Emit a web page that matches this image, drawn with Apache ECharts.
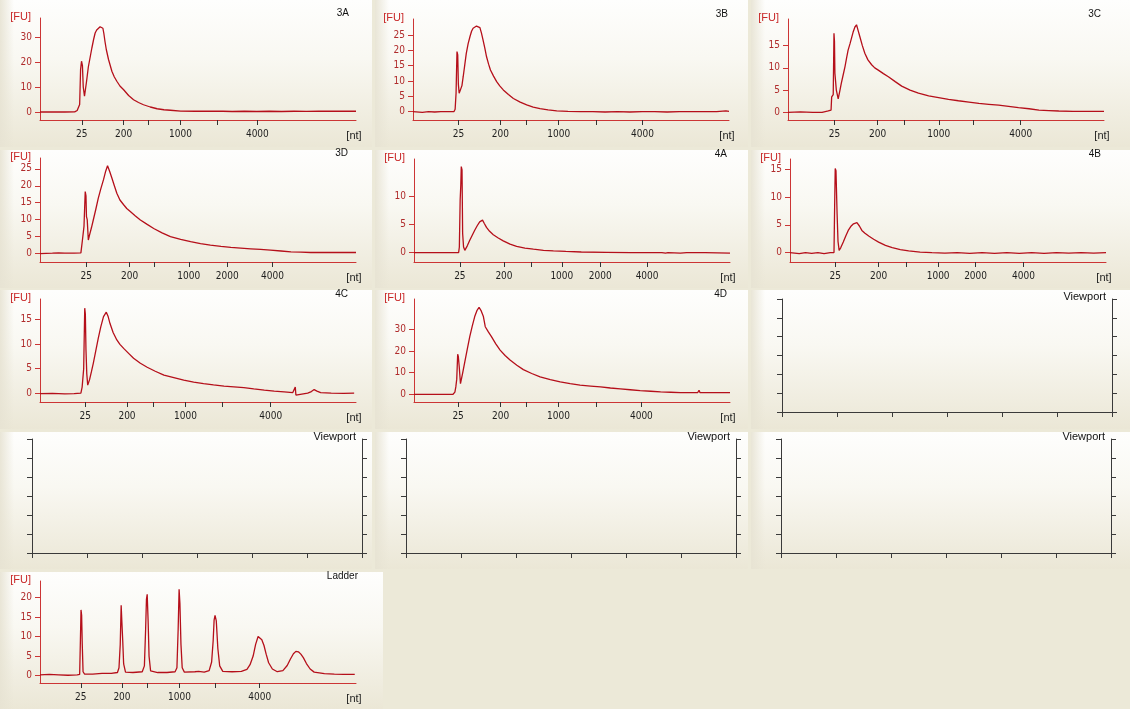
<!DOCTYPE html>
<html>
<head>
<meta charset="utf-8">
<script src="https://cdn.jsdelivr.net/npm/echarts@6/dist/echarts.min.js"></script>
<style>
  html, body { margin: 0; padding: 0; background: #ece9d8; }
  #chart { width: 1130px; height: 709px; }
</style>
</head>
<body>
<div id="chart"></div>
<script>
// ---------------------------------------------------------------------------
// Electropherogram traces: [migration time (s), fluorescence (FU)]
// ---------------------------------------------------------------------------
const trace3A = [
  [19.0,0.0],[21.0,0.05],[23.0,0.0],[24.6,0.05],[25.0,0.6],[25.4,3],[25.55,17],[25.7,20.3],[25.85,18.5],
  [25.98,10],[26.18,6.3],[26.5,12],[26.8,18],[27.1,22],[27.37,25.6],[27.65,29],[27.9,31.6],[28.15,32.8],
  [28.4,33.6],[28.7,34.1],[29.0,34.4],[29.15,33.5],[29.3,31.5],[29.5,28],[29.7,25],[30.06,21],[30.6,16.3],
  [31.0,14],[31.4,12.3],[31.9,10.4],[32.5,8.9],[33.3,6.6],[34.1,4.9],[34.9,3.8],[35.7,2.9],[36.8,2.0],
  [37.9,1.3],[39.0,0.9],[40.05,0.7],[41.7,0.35],[44.0,0.3],[46.5,0.3],[46.6,-0.3],[46.75,0.3],[48.5,0.3],
  [50.0,0.2],[52.0,0.3],[54.0,0.2],[56.0,0.3],[58.0,0.2],[60.0,0.3],[62.0,0.25],[64.0,0.3],[66.0,0.3],
  [68.0,0.3],[70.0,0.3]
];
const trace3B = [
  [19.0,0.0],[20.5,-0.2],[21.5,0.0],[22.5,-0.1],[23.5,0.0],[25.6,0.0],[25.8,0.8],[25.95,6],[26.1,19.6],
  [26.22,18.5],[26.32,9],[26.45,6],[26.66,5.4],[26.9,8.5],[27.1,11.4],[27.35,15.2],[27.6,19],[27.9,22.2],
  [28.2,24.5],[28.45,26.2],[28.7,27.2],[29.0,27.8],[29.25,27.9],[29.5,27.8],[29.8,27.4],[30.05,25.6],
  [30.3,23.4],[30.6,20.6],[30.87,17.9],[31.2,15.5],[31.5,13.6],[32.0,11.6],[32.5,9.8],[33.0,8.4],
  [33.57,7.1],[34.4,5.6],[35.2,4.3],[36.3,3.1],[37.35,2.2],[38.4,1.5],[39.5,1.0],[40.8,0.6],[42.2,0.3],
  [44.0,0.1],[46.0,0.0],[48.0,0.0],[50.0,-0.1],[52.0,0.0],[54.0,-0.1],[56.0,0.0],[58.0,0.0],[60.0,-0.1],
  [62.0,0.0],[64.0,0.0],[66.0,0.0],[68.0,0.0],[69.5,0.3],[70.0,0.1]
];
const trace3C = [
  [19.0,0.0],[21.0,0.1],[23.0,0.0],[24.5,0.0],[25.5,0.3],[25.95,0.5],[26.05,3.5],[26.3,4],[26.42,17.8],
  [26.5,16],[26.57,8.8],[26.65,8.5],[26.8,5],[27.1,3.0],[27.35,4.7],[27.6,6.5],[27.9,8.4],[28.2,10.3],
  [28.45,12.2],[28.7,14.0],[29.0,15.4],[29.25,16.7],[29.5,18],[29.8,19.2],[30.06,19.7],[30.3,18.5],
  [30.6,17.0],[31.0,15.0],[31.4,13.3],[31.9,11.8],[32.5,10.7],[33.0,10.0],[33.57,9.5],[34.4,8.7],
  [35.2,8.0],[36.3,6.9],[37.35,5.9],[38.7,5.0],[40.05,4.3],[41.7,3.7],[43.3,3.3],[44.9,2.9],[46.5,2.6],
  [48.2,2.3],[49.8,2.0],[51.4,1.8],[53.0,1.6],[54.6,1.35],[56.2,1.05],[57.9,0.8],[59.5,0.5],[61.1,0.4],
  [62.7,0.3],[65.0,0.2],[67.5,0.2],[70.0,0.2]
];
const trace3D = [
  [19.0,0.0],[21.0,0.1],[22.0,0.2],[23.0,0.1],[24.5,0.1],[25.6,0.2],[25.85,4],[26.1,8],[26.3,18.3],
  [26.42,17],[26.5,10.9],[26.62,10],[26.8,4.0],[27.0,5.5],[27.3,7.6],[27.6,9.9],[28.0,13],[28.4,16.3],
  [28.8,19],[29.25,21.8],[29.6,24.3],[29.9,25.9],[30.25,24.2],[30.6,22.3],[31.0,20],[31.4,17.8],
  [31.9,15.8],[32.5,14.4],[33.0,13.3],[33.57,12.4],[34.4,11.1],[35.2,9.9],[36.3,8.6],[37.35,7.4],
  [38.7,6.1],[40.05,5.0],[41.7,4.2],[43.3,3.5],[44.9,2.9],[46.5,2.5],[48.2,2.1],[49.8,1.8],[51.4,1.6],
  [53.0,1.4],[54.6,1.2],[56.2,1.0],[57.9,0.75],[59.5,0.5],[61.1,0.4],[62.7,0.3],[66.0,0.3],[70.0,0.3]
];
const trace4A = [
  [19.0,0.0],[22.0,0.0],[24.0,0.0],[26.2,0.0],[26.32,1],[26.45,9.4],[26.55,12],[26.63,15.4],[26.75,14.8],
  [26.85,3.4],[27.0,1.0],[27.2,0.4],[27.6,1.2],[28.0,2.2],[28.4,3.1],[28.8,4.0],[29.2,4.8],[29.6,5.5],
  [29.9,5.75],[30.06,5.8],[30.35,5.2],[30.7,4.5],[31.2,3.8],[31.8,3.2],[32.6,2.6],[33.4,2.1],[34.5,1.5],
  [35.56,1.1],[36.9,0.8],[38.27,0.6],[39.9,0.4],[41.5,0.3],[43.5,0.2],[46.0,0.1],[50.0,0.05],[54.0,0.0],
  [56.3,0.0],[56.5,-0.2],[56.7,0.0],[59.0,0.0],[59.3,-0.2],[59.6,-0.1],[60.0,0.0],[62.0,-0.1],[63.0,0.0],
  [66.0,0.0],[70.0,-0.1]
];
const trace4B = [
  [19.0,0.0],[20.5,-0.2],[21.5,0.0],[22.5,-0.15],[23.5,0.0],[24.5,-0.2],[25.5,0.0],[26.1,0.0],[26.2,8],
  [26.3,15.2],[26.42,14.8],[26.5,14.6],[26.6,7.0],[26.75,2],[26.93,0.4],[27.2,0.9],[27.6,1.9],[28.0,3.0],
  [28.4,4.0],[28.8,4.7],[29.25,5.2],[29.8,5.4],[30.2,4.8],[30.6,4.0],[31.1,3.5],[31.7,3.0],[32.5,2.4],
  [33.3,1.9],[34.4,1.3],[35.5,0.9],[36.8,0.55],[38.15,0.3],[40.0,0.1],[41.9,0.0],[44.0,-0.1],[46.0,0.0],
  [48.0,-0.15],[50.0,0.0],[52.0,-0.15],[54.0,0.0],[56.0,-0.15],[58.0,0.0],[60.0,-0.15],[62.0,0.0],
  [64.0,-0.1],[66.0,0.0],[68.0,-0.1],[70.0,0.0]
];
const trace4C = [
  [19.0,0.0],[21.0,0.05],[23.0,-0.05],[24.5,0.0],[25.6,0.1],[25.8,1.3],[26.05,5],[26.22,17.2],[26.32,16],
  [26.42,8.8],[26.55,4],[26.7,1.7],[27.0,2.8],[27.3,4.4],[27.6,6.1],[28.0,8.6],[28.4,11.1],[28.8,13.4],
  [29.25,15.5],[29.7,16.4],[30.0,15.5],[30.3,14.1],[30.8,12.3],[31.4,10.8],[31.9,9.9],[32.5,9.1],
  [33.3,8.1],[34.1,7.1],[35.2,6.1],[36.3,5.3],[37.6,4.5],[39.0,3.7],[40.6,3.2],[42.2,2.7],[43.8,2.3],
  [45.4,2.0],[47.0,1.75],[48.7,1.5],[50.3,1.35],[51.9,1.2],[53.5,0.95],[55.2,0.7],[56.8,0.5],[58.4,0.35],
  [59.8,0.2],[60.2,1.3],[60.3,-0.3],[60.5,0.1],[62.2,0.1],[62.8,0.4],[63.25,0.8],[63.7,0.5],[64.3,0.2],
  [66.0,0.1],[68.0,0.05],[69.7,0.1]
];
const trace4D = [
  [19.0,0.0],[22.0,0.0],[24.0,0.0],[25.3,0.0],[25.6,1],[25.75,3.4],[25.9,7],[26.05,18.5],[26.15,17.5],
  [26.3,12.7],[26.5,4.9],[26.85,9.8],[27.2,15],[27.6,20.8],[28.0,26.6],[28.4,31.5],[28.8,35.9],
  [29.15,38.6],[29.5,40.2],[29.85,38.5],[30.2,35.9],[30.5,31.2],[31.0,28.8],[31.5,26.6],[32.2,23.3],
  [32.9,20.4],[33.7,17.9],[34.5,15.8],[35.6,13.4],[36.65,11.4],[38.0,9.6],[39.35,8.0],[41.0,6.8],
  [42.6,5.7],[44.2,4.9],[45.8,4.2],[47.5,3.8],[49.1,3.4],[50.7,2.9],[52.3,2.5],[53.9,2.1],[55.5,1.7],
  [57.2,1.4],[58.8,1.1],[60.4,0.95],[62.0,0.8],[64.8,0.8],[65.0,1.9],[65.15,0.8],[67.0,0.8],[70.0,0.8]
];
const traceLadder = [
  [19.0,0.2],[20.5,0.3],[22.0,0.2],[23.5,0.1],[25.0,0.2],[25.4,0.3],[25.52,9],[25.62,16.8],[25.72,15.4],
  [25.82,8],[25.95,1],[26.2,0.4],[27.5,0.4],[29.0,0.6],[30.5,0.6],[31.5,0.8],[31.75,2],[31.95,8],
  [32.1,18.0],[32.2,14.2],[32.35,9],[32.5,3],[32.8,0.9],[34.0,0.8],[35.5,1.0],[35.85,2.5],[36.05,12],
  [36.18,19.5],[36.3,20.8],[36.45,14],[36.6,5],[36.85,1.2],[38.0,0.8],[39.5,0.8],[40.8,1.0],[41.1,2],
  [41.3,12],[41.45,22.1],[41.58,18.5],[41.75,8],[41.95,2],[42.3,0.9],[44.0,1.0],[44.6,1.1],[45.5,0.9],
  [46.3,1.3],[46.7,3.5],[46.95,9],[47.1,14.2],[47.25,15.4],[47.45,14],[47.7,7],[48.0,2.5],[48.5,1.1],
  [50.0,1.0],[51.5,1.1],[52.4,1.6],[52.9,2.8],[53.4,5],[53.8,8],[54.2,10],[54.45,10.3],[54.8,9.2],
  [55.15,7.7],[55.5,5.5],[55.9,3.3],[56.5,1.7],[57.3,1.0],[58.2,1.3],[58.9,2.6],[59.4,4.2],[59.9,5.6],
  [60.3,6.2],[60.7,6.1],[61.1,5.5],[61.5,4.6],[62.0,3.1],[62.6,1.7],[63.25,0.9],[64.9,0.5],[66.5,0.4],
  [68.0,0.35],[69.8,0.3]
];

// Ladder fragment sizes (nt) and the migration time each well assigns to them
const ladderSizes = [25, 200, 500, 1000, 2000, 4000];
const sizesLabelled = [25, 200, 1000, 4000];
const sizesLabelledWith2000 = [25, 200, 1000, 2000, 4000];
const marks3A = [25.75, 32.49, 36.53, 41.67, 47.61, 54.08];
const marks3B = [26.33, 33.09, 37.30, 42.52, 48.58, 56.03];
const marks3C = [26.50, 33.46, 37.83, 43.33, 48.90, 56.56];
const marks3D = [26.45, 33.46, 37.46, 43.01, 49.23, 56.51];
const marks4A = [26.40, 33.52, 37.89, 42.86, 49.06, 56.62];
const marks4B = [26.29, 33.30, 37.73, 42.91, 48.95, 56.67];
const marks4C = [26.29, 33.04, 37.34, 42.47, 48.42, 56.24];
const marks4D = [26.12, 32.99, 37.08, 42.31, 48.37, 55.70];
const marksLadder = [25.59, 32.23, 36.37, 41.50, 47.33, 54.46];

// Fluorescence tick labels per well
const fuTicks3A = [0, 10, 20, 30];
const fuTicks3B = [0, 5, 10, 15, 20, 25];
const fuTicks3C = [0, 5, 10, 15];
const fuTicks3D = [0, 5, 10, 15, 20, 25];
const fuTicks4A = [0, 5, 10];
const fuTicks4B = [0, 5, 10, 15];
const fuTicks4C = [0, 5, 10, 15];
const fuTicks4D = [0, 10, 20, 30];
const fuTicksLadder = [0, 5, 10, 15, 20];

const wellNames = ['3A', '3B', '3C', '3D', '4A', '4B', '4C', '4D', 'Ladder'];
const emptyLabel = 'Viewport';

// ---------------------------------------------------------------------------
// Layout
// ---------------------------------------------------------------------------
const TIME_MIN = 19, TIME_MAX = 70;
const RED = '#b50f1a';
const AXIS_RED = '#cc3535';
const TICK_RED = '#b02c2c';
const NUM_FONT = '"Liberation Sans Narrow", "DejaVu Sans Condensed", "Liberation Sans", sans-serif';
const TXT_FONT = '"Liberation Sans", Arial, sans-serif';

// panel backgrounds: [x, y, w, h]
const panelRects = [
  [0, 0, 372, 147], [375, 0, 373, 147], [751, 0, 379, 147],
  [0, 150, 372, 138], [375, 150, 373, 138], [751, 150, 379, 138],
  [0, 290, 372, 139], [375, 290, 373, 139], [751, 290, 379, 139],
  [0, 432, 372, 137], [375, 432, 373, 137], [751, 432, 379, 137],
  [0, 572, 383, 137]
];

// plot frames for each well
const wellFrames = [
  { left: 40,  top: 18,  bottom: 120, yMin: -3.2,  yMax: 37.6,  titleDx: 309 },
  { left: 413, top: 19,  bottom: 120, yMin: -2.7,  yMax: 30.2,  titleDx: 315 },
  { left: 788, top: 19,  bottom: 120, yMin: -1.73, yMax: 21.0,  titleDx: 313 },
  { left: 40,  top: 158, bottom: 262, yMin: -2.5,  yMax: 28.2,  titleDx: 308 },
  { left: 414, top: 159, bottom: 262, yMin: -1.69, yMax: 16.75, titleDx: 313 },
  { left: 790, top: 159, bottom: 262, yMin: -1.7,  yMax: 16.9,  titleDx: 311 },
  { left: 40,  top: 299, bottom: 402, yMin: -1.7,  yMax: 19.05, titleDx: 308 },
  { left: 414, top: 299, bottom: 402, yMin: -3.56, yMax: 44.0,  titleDx: 313 },
  { left: 40,  top: 581, bottom: 683, yMin: -1.88, yMax: 24.2,  titleDx: 318 }
];
const PLOT_W = 316;

// empty frames: left axis, right axis, top, bottom
const emptyFrames = [
  { left: 782, right: 1112, top: 299, bottom: 412 },
  { left: 32,  right: 362,  top: 439, bottom: 553 },
  { left: 406, right: 736,  top: 439, bottom: 553 },
  { left: 781, right: 1111, top: 439, bottom: 553 }
];

const wells = [
  { trace: trace3A, marks: marks3A, fu: fuTicks3A, shown: sizesLabelled },
  { trace: trace3B, marks: marks3B, fu: fuTicks3B, shown: sizesLabelled },
  { trace: trace3C, marks: marks3C, fu: fuTicks3C, shown: sizesLabelled },
  { trace: trace3D, marks: marks3D, fu: fuTicks3D, shown: sizesLabelledWith2000 },
  { trace: trace4A, marks: marks4A, fu: fuTicks4A, shown: sizesLabelledWith2000 },
  { trace: trace4B, marks: marks4B, fu: fuTicks4B, shown: sizesLabelledWith2000 },
  { trace: trace4C, marks: marks4C, fu: fuTicks4C, shown: sizesLabelled },
  { trace: trace4D, marks: marks4D, fu: fuTicks4D, shown: sizesLabelled },
  { trace: traceLadder, marks: marksLadder, fu: fuTicksLadder, shown: sizesLabelled }
];

const grids = [], xAxes = [], yAxes = [], series = [], graphics = [];

// panel backgrounds
panelRects.forEach(([x, y, w, h]) => {
  graphics.push({
    type: 'rect', z: -10, silent: true,
    shape: { x, y, width: w, height: h },
    style: {
      fill: { type: 'linear', x: 0, y: 0, x2: 0, y2: 1, colorStops: [
        { offset: 0, color: '#fefefd' },
        { offset: 0.4, color: '#f9f8f2' },
        { offset: 1, color: '#ebe7d6' }
      ] }
    }
  });
  graphics.push({
    type: 'rect', z: -9, silent: true,
    shape: { x, y, width: 14, height: h },
    style: {
      fill: { type: 'linear', x: 0, y: 0, x2: 1, y2: 0, colorStops: [
        { offset: 0, color: 'rgba(231,227,211,0.9)' },
        { offset: 1, color: 'rgba(231,227,211,0)' }
      ] }
    }
  });
});

function nearestIndex(arr, v) {
  let best = 0;
  arr.forEach((m, i) => { if (Math.abs(m - v) < Math.abs(arr[best] - v)) best = i; });
  return best;
}

wells.forEach((w, i) => {
  const f = wellFrames[i];
  const gi = grids.length;
  grids.push({ left: f.left, top: f.top, width: PLOT_W, height: f.bottom - f.top });
  const labelled = w.marks.filter((m, k) => w.shown.includes(ladderSizes[k]));
  xAxes.push({
    type: 'value', gridIndex: gi, min: TIME_MIN, max: TIME_MAX,
    axisLine: { show: true, onZero: false, lineStyle: { color: AXIS_RED, width: 1 } },
    axisTick: { show: true, customValues: w.marks, length: 5, lineStyle: { color: '#333', width: 1 } },
    axisLabel: {
      show: true, customValues: labelled, margin: 9,
      color: '#1e1e1e', fontSize: 10, fontFamily: NUM_FONT,
      formatter: (v) => String(ladderSizes[nearestIndex(w.marks, v)])
    },
    splitLine: { show: false }
  });
  yAxes.push({
    type: 'value', gridIndex: gi, min: f.yMin, max: f.yMax,
    axisLine: { show: true, onZero: false, lineStyle: { color: AXIS_RED, width: 1 } },
    axisTick: { show: true, customValues: w.fu, length: 5, lineStyle: { color: AXIS_RED, width: 1 } },
    axisLabel: { show: true, customValues: w.fu, margin: 8, color: TICK_RED, fontSize: 10, fontFamily: NUM_FONT },
    splitLine: { show: false }
  });
  series.push({
    type: 'line', xAxisIndex: gi, yAxisIndex: yAxes.length - 1, data: w.trace,
    showSymbol: false, symbol: 'none', silent: true, animation: false,
    lineStyle: { color: RED, width: 1.3 }
  });
  graphics.push({
    type: 'text', z: 10, x: f.left - 9, y: f.top - 1,
    style: { text: '[FU]', fill: '#c82828', font: '11px ' + TXT_FONT, textAlign: 'right', textVerticalAlign: 'middle' }
  });
  graphics.push({
    type: 'text', z: 10, x: f.left + PLOT_W - 2, y: f.bottom + 16,
    style: { text: '[nt]', fill: '#1e1e1e', font: '11px ' + TXT_FONT, textAlign: 'center', textVerticalAlign: 'middle' }
  });
  graphics.push({
    type: 'text', z: 10, x: f.left + f.titleDx, y: f.top - 5,
    style: { text: wellNames[i], fill: '#111', font: '10px ' + TXT_FONT, textAlign: 'right', textVerticalAlign: 'middle' }
  });
});

// empty frames
emptyFrames.forEach((f) => {
  const gi = grids.length;
  grids.push({ left: f.left, top: f.top, width: f.right - f.left, height: f.bottom - f.top });
  const axisStyle = {
    axisLine: { show: true, onZero: false, lineStyle: { color: '#3a3a3a', width: 1 } },
    axisTick: { show: true, length: 5, lineStyle: { color: '#3a3a3a', width: 1 } },
    axisLabel: { show: false },
    splitLine: { show: false }
  };
  xAxes.push(Object.assign({ type: 'value', gridIndex: gi, min: 0, max: 6, interval: 1 }, axisStyle));
  yAxes.push(Object.assign({ type: 'value', gridIndex: gi, min: 0, max: 6, interval: 1, position: 'left' }, axisStyle));
  const yl = yAxes.length - 1;
  yAxes.push(Object.assign({ type: 'value', gridIndex: gi, min: 0, max: 6, interval: 1, position: 'right' }, axisStyle));
  const yr = yAxes.length - 1;
  series.push({ type: 'line', xAxisIndex: gi, yAxisIndex: yl, data: [], silent: true });
  series.push({ type: 'line', xAxisIndex: gi, yAxisIndex: yr, data: [], silent: true });
  graphics.push({
    type: 'text', z: 10, x: f.right - 6, y: f.top - 2,
    style: { text: emptyLabel, fill: '#111', font: '11px ' + TXT_FONT, textAlign: 'right', textVerticalAlign: 'middle' }
  });
});

const chart = echarts.init(document.getElementById('chart'), null, { renderer: 'canvas' });
chart.setOption({
  backgroundColor: '#ece9d8',
  animation: false,
  grid: grids,
  xAxis: xAxes,
  yAxis: yAxes,
  series: series,
  graphic: { elements: graphics }
});
</script>
</body>
</html>
